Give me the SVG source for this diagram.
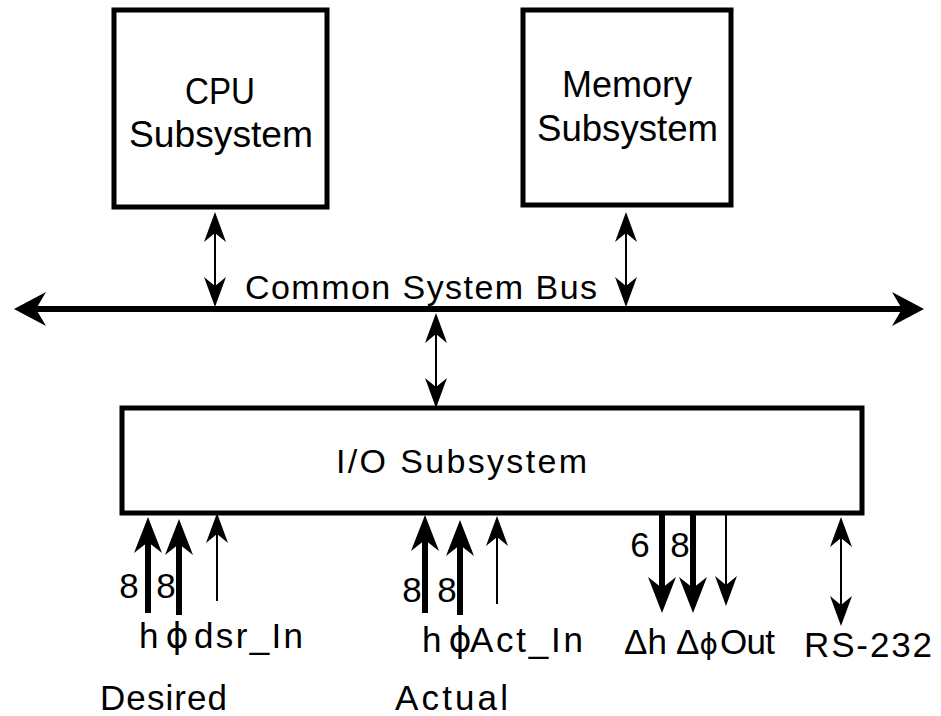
<svg xmlns="http://www.w3.org/2000/svg" width="941" height="716" viewBox="0 0 941 716">
<style>
text{font-family:"Liberation Sans",Arial,sans-serif;fill:#000}
.phi{font-family:"DejaVu Sans","Liberation Sans",sans-serif}
.box{fill:#fff;stroke:#000;stroke-width:5}
.bus{stroke:#000;stroke-width:6;fill:none}
.thin{stroke:#000;stroke-width:2;fill:none}
.thick{stroke:#000;stroke-width:6;fill:none}
.lbl{font-size:36px}
.sm{font-size:35px}
</style>
<defs>
<marker id="hb" viewBox="-12 -18 36 36" refX="0" refY="0" markerWidth="36" markerHeight="36" markerUnits="userSpaceOnUse" orient="auto-start-reverse"><path d="M22,0 L-10,-17 L0,0 L-10,17 Z" fill="#000"/></marker>
<marker id="ht" viewBox="-12 -12 36 24" refX="0" refY="0" markerWidth="36" markerHeight="24" markerUnits="userSpaceOnUse" orient="auto-start-reverse"><path d="M21,0 L-9,-11 L0,0 L-9,11 Z" fill="#000"/></marker>
<marker id="hk" viewBox="-14 -16 42 32" refX="0" refY="0" markerWidth="42" markerHeight="32" markerUnits="userSpaceOnUse" orient="auto-start-reverse"><path d="M25,0 L-11,-14 L0,0 L-11,14 Z" fill="#000"/></marker>
</defs>
<g id="cpu">
<rect class="box" x="114" y="10" width="213" height="197"/>
<text class="lbl" x="220" y="104" text-anchor="middle" textLength="70" lengthAdjust="spacingAndGlyphs">CPU</text>
<text class="lbl" x="129" y="147" textLength="184" lengthAdjust="spacingAndGlyphs">Subsystem</text>
</g>
<g id="memory">
<rect class="box" x="523" y="10" width="208" height="195"/>
<text class="lbl" x="627" y="97" text-anchor="middle">Memory</text>
<text class="lbl" x="537" y="141" textLength="181" lengthAdjust="spacingAndGlyphs">Subsystem</text>
</g>
<g id="io">
<rect class="box" x="122" y="408" width="740" height="105"/>
<text x="336" y="473" font-size="34" textLength="251" lengthAdjust="spacing">I/O  Subsystem</text>
</g>
<g id="bus">
<line class="bus" x1="36" y1="309" x2="902" y2="309" marker-start="url(#hb)" marker-end="url(#hb)"/>
<text x="245" y="299" font-size="34" textLength="352" lengthAdjust="spacing">Common  System  Bus</text>
</g>
<g id="connectors">
<line class="thin" x1="215" y1="233" x2="215" y2="286" marker-start="url(#ht)" marker-end="url(#ht)"/>
<line class="thin" x1="626" y1="233" x2="626" y2="286" marker-start="url(#ht)" marker-end="url(#ht)"/>
<line class="thin" x1="436" y1="334" x2="436" y2="387" marker-start="url(#ht)" marker-end="url(#ht)"/>
<line class="thin" x1="841" y1="538" x2="841" y2="605" marker-start="url(#ht)" marker-end="url(#ht)"/>
<line class="thick" x1="148" y1="613" x2="148" y2="542" marker-end="url(#hk)"/>
<line class="thick" x1="179" y1="615" x2="179" y2="544" marker-end="url(#hk)"/>
<line class="thin" x1="217" y1="601" x2="217" y2="534" marker-end="url(#ht)"/>
<line class="thick" x1="425" y1="613" x2="425" y2="540" marker-end="url(#hk)"/>
<line class="thick" x1="460" y1="615" x2="460" y2="545" marker-end="url(#hk)"/>
<line class="thin" x1="497" y1="604" x2="497" y2="537" marker-end="url(#ht)"/>
<line class="thick" x1="662" y1="515" x2="662" y2="588" marker-end="url(#hk)"/>
<line class="thick" x1="693" y1="515" x2="693" y2="588" marker-end="url(#hk)"/>
<line class="thin" x1="726" y1="515" x2="726" y2="585" marker-end="url(#ht)"/>
</g>
<g id="labels">
<text class="sm" x="129" y="598" text-anchor="middle">8</text>
<text class="sm" x="166" y="598" text-anchor="middle">8</text>
<text class="sm" x="412" y="602" text-anchor="middle">8</text>
<text class="sm" x="447" y="602" text-anchor="middle">8</text>
<text class="sm" x="640" y="557" text-anchor="middle">6</text>
<text class="sm" x="680" y="557" text-anchor="middle">8</text>
<text class="sm" x="139" y="648">h</text>
<text class="sm phi" x="177" y="648" text-anchor="middle" font-size="28">ϕ</text>
<text class="sm" x="194" y="648" textLength="109" lengthAdjust="spacing">dsr_In</text>
<text class="sm" x="422" y="652">h</text>
<text class="sm phi" x="460" y="652" text-anchor="middle" font-size="28">ϕ</text>
<text class="sm" x="470" y="652" textLength="113" lengthAdjust="spacing">Act_In</text>
<text class="sm" x="624" y="654">Δh</text>
<text class="sm" x="676" y="654">Δ<tspan class="phi" font-size="28">ϕ</tspan></text>
<text class="sm" x="720" y="654" textLength="55" lengthAdjust="spacing">Out</text>
<text class="sm" x="804" y="657" textLength="128" lengthAdjust="spacing">RS-232</text>
<text class="sm" x="100" y="710" textLength="127" lengthAdjust="spacing">Desired</text>
<text class="sm" x="395" y="710" textLength="113" lengthAdjust="spacing">Actual</text>
</g>
</svg>
